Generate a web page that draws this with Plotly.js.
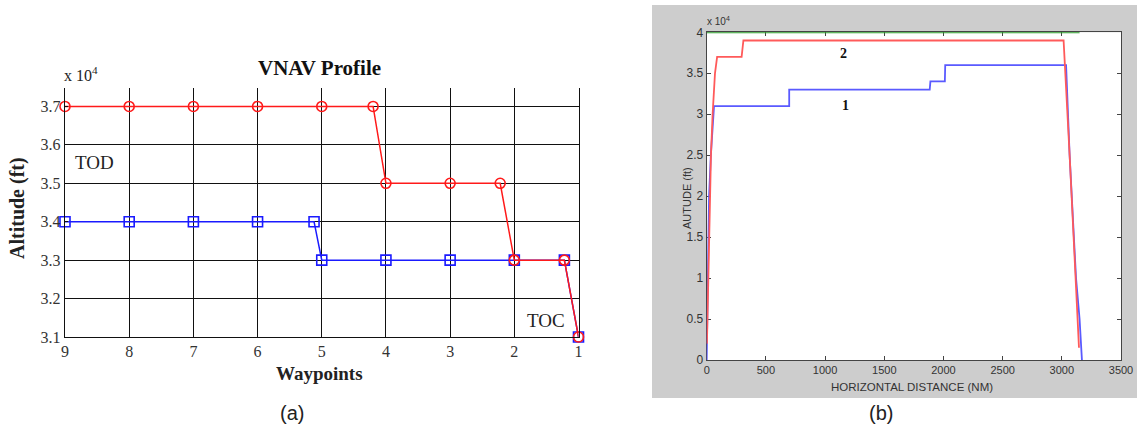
<!DOCTYPE html>
<html>
<head>
<meta charset="utf-8">
<script src="https://cdn.plot.ly/plotly-3.0.1.min.js"></script>
<style>
html,body{margin:0;padding:0;background:#fff;}
#chart{width:1137px;height:432px;}
</style>
</head>
<body>
<div id="chart"></div>
<script>
// ---- Panel (a): VNAV profile ----
const waypointTicks = [9, 8, 7, 6, 5, 4, 3, 2, 1];
const altTickVals = [31000, 32000, 33000, 34000, 35000, 36000, 37000];
const altTickText = ['3.1', '3.2', '3.3', '3.4', '3.5', '3.6', '3.7'];

const redWaypoints = [9, 8, 7, 6, 5, 4.2, 4, 3, 2.22, 2, 1.22, 1];
const redAltitude  = [37000, 37000, 37000, 37000, 37000, 37000, 35000, 35000, 35000, 33000, 33000, 31000];

const blueWaypoints = [9, 8, 7, 6, 5.12, 5, 4, 3, 2, 1.22, 1];
const blueAltitude  = [34000, 34000, 34000, 34000, 34000, 33000, 33000, 33000, 33000, 33000, 31000];

// ---- Panel (b): altitude vs horizontal distance ----
const distTickVals = [0, 500, 1000, 1500, 2000, 2500, 3000, 3500];
const altTickVals2 = [0, 5000, 10000, 15000, 20000, 25000, 30000, 35000, 40000];
const altTickText2 = ['0', '0.5', '1', '1.5', '2', '2.5', '3', '3.5', '4'];

const dist1 = [0, 10, 20, 35, 62, 697, 697, 1884, 1890, 2012, 2015, 3036, 3066, 3120, 3150, 3170];
const alt1  = [0, 10000, 20000, 25000, 31000, 31000, 33000, 33000, 34000, 34000, 36000, 36000, 25000, 10000, 5000, 0];

const dist2 = [2, 6, 12, 36, 50, 70, 88, 295, 310, 3015, 3066, 3120, 3145];
const alt2  = [2000, 5000, 10000, 25000, 30000, 35000, 37000, 37000, 39000, 39000, 25000, 10000, 1500];

const distCeil = [0, 3150];
const altCeil  = [40000, 40000];

const W = 1137, H = 432;
const px = v => v / W;
const py = v => 1 - v / H;

const serif = 'Liberation Serif, Times New Roman, serif';
const sans = 'Liberation Sans, Arial, sans-serif';

const traces = [
  {x: blueWaypoints, y: blueAltitude, xaxis: 'x', yaxis: 'y', mode: 'lines+markers',
   line: {color: '#1a1aff', width: 1.5}, cliponaxis: false,
   marker: {symbol: 'square-open', size: 10, color: '#1a1aff', line: {width: 1.6}},
   hoverinfo: 'skip', showlegend: false},
  {x: redWaypoints, y: redAltitude, xaxis: 'x', yaxis: 'y', mode: 'lines+markers',
   line: {color: '#ff1a1a', width: 1.5}, cliponaxis: false,
   marker: {symbol: 'circle-open', size: 10, color: '#ff1a1a', line: {width: 1.6}},
   hoverinfo: 'skip', showlegend: false},
  {x: distCeil, y: altCeil, xaxis: 'x2', yaxis: 'y2', mode: 'lines',
   line: {color: '#2e9e2e', width: 2}, hoverinfo: 'skip', showlegend: false},
  {x: dist1, y: alt1, xaxis: 'x2', yaxis: 'y2', mode: 'lines',
   line: {color: '#5a5aff', width: 1.8}, hoverinfo: 'skip', showlegend: false},
  {x: dist2, y: alt2, xaxis: 'x2', yaxis: 'y2', mode: 'lines',
   line: {color: '#ff5a5a', width: 1.8}, hoverinfo: 'skip', showlegend: false}
];

function ann(text, x, y, font, extra) {
  return Object.assign({text: text, x: px(x), y: py(y), xref: 'paper', yref: 'paper',
    xanchor: 'center', yanchor: 'middle', showarrow: false, font: font}, extra || {});
}

const layout = {
  width: W, height: H,
  margin: {l: 0, r: 0, t: 0, b: 0},
  paper_bgcolor: '#ffffff',
  plot_bgcolor: '#ffffff',
  showlegend: false,
  xaxis: {
    domain: [px(65), px(578.5)], anchor: 'y',
    range: [9, 1], tickvals: waypointTicks, ticktext: waypointTicks.map(String),
    showgrid: true, gridcolor: '#111', gridwidth: 1,
    showline: true, linecolor: '#111', linewidth: 1.2, mirror: false,
    ticks: 'inside', ticklen: 3, tickcolor: '#111', zeroline: false,
    tickfont: {family: serif, size: 16, color: '#333'}
  },
  yaxis: {
    domain: [py(337), py(88)], anchor: 'x',
    range: [31000, 37480], tickvals: altTickVals, ticktext: altTickText,
    showgrid: true, gridcolor: '#111', gridwidth: 1,
    showline: true, linecolor: '#111', linewidth: 1.2, mirror: true,
    ticks: 'inside', ticklen: 3, tickcolor: '#111', zeroline: false,
    tickfont: {family: serif, size: 16, color: '#333'}
  },
  xaxis2: {
    domain: [px(706.7), px(1121)], anchor: 'y2',
    range: [0, 3500], tickvals: distTickVals,
    showgrid: false, zeroline: false,
    showline: true, linecolor: '#444', linewidth: 1, mirror: 'ticks',
    ticks: 'inside', ticklen: 4, tickcolor: '#444', layer: 'below traces',
    tickfont: {family: sans, size: 11, color: '#333'}
  },
  yaxis2: {
    domain: [py(360), py(32.3)], anchor: 'x2',
    range: [0, 40000], tickvals: altTickVals2, ticktext: altTickText2,
    showgrid: false, zeroline: false,
    showline: true, linecolor: '#444', linewidth: 1, mirror: 'ticks',
    ticks: 'inside', ticklen: 4, tickcolor: '#444', layer: 'below traces',
    tickfont: {family: sans, size: 12, color: '#333'}
  },
  shapes: [
    {type: 'rect', xref: 'paper', yref: 'paper', layer: 'below',
     x0: px(652), x1: 1, y0: py(398), y1: py(5),
     fillcolor: '#cdcdcd', line: {width: 0}},
    {type: 'rect', xref: 'x2 domain', yref: 'y2 domain', layer: 'below',
     x0: 0, x1: 1, y0: 0, y1: 1, fillcolor: '#ffffff', line: {width: 0}}
  ],
  annotations: [
    ann('<b>VNAV Profile</b>', 319, 68, {family: serif, size: 21, color: '#111'}),
    ann('x 10<sup>4</sup>', 62, 74, {family: serif, size: 16, color: '#222'}, {xanchor: 'left'}),
    ann('<b>Altitude (ft)</b>', 18, 208, {family: serif, size: 20, color: '#222'}, {textangle: -90}),
    ann('<b>Waypoints</b>', 319, 373, {family: serif, size: 19, color: '#222'}),
    ann('TOD', 94, 162, {family: serif, size: 19, color: '#222'}),
    ann('TOC', 546, 320, {family: serif, size: 19, color: '#222'}),
    ann('<b>2</b>', 843, 53, {family: serif, size: 14, color: '#111'}),
    ann('<b>1</b>', 845, 105, {family: serif, size: 14, color: '#111'}),
    ann('x 10<sup>4</sup>', 705, 21, {family: sans, size: 10, color: '#333'}, {xanchor: 'left'}),
    ann('AUTUDE (ft)', 687, 198, {family: sans, size: 11, color: '#333'}, {textangle: -90}),
    ann('HORIZONTAL DISTANCE (NM)', 912, 387, {family: sans, size: 11.5, color: '#333'}),
    ann('(a)', 292, 413, {family: sans, size: 20, color: '#222'}),
    ann('(b)', 881, 413, {family: sans, size: 20, color: '#222'})
  ]
};

Plotly.newPlot('chart', traces, layout, {staticPlot: true, displayModeBar: false});
</script>
</body>
</html>
